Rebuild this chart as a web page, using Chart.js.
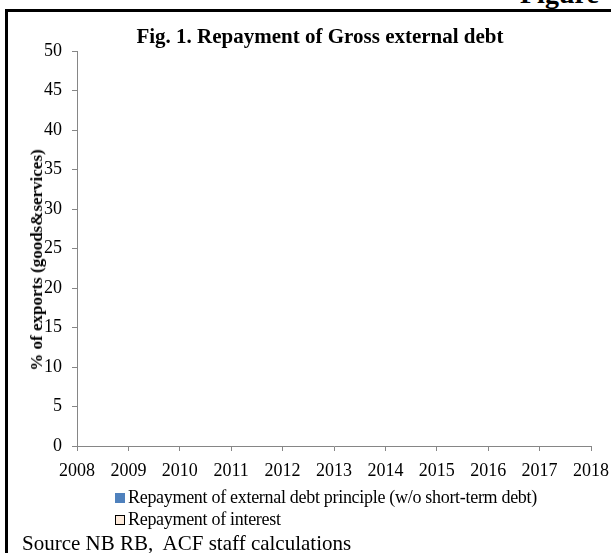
<!DOCTYPE html>
<html>
<head>
<meta charset="utf-8">
<script src="https://cdn.jsdelivr.net/npm/chart.js@4/dist/chart.umd.min.js"></script>
<style>
  html, body { margin: 0; padding: 0; background: #fff; }
  body { width: 611px; height: 553px; position: relative; overflow: hidden;
         font-family: "Liberation Serif", "Times New Roman", serif; color: #000; }
  #frame { position: absolute; left: 5px; top: 9px; width: 620px; height: 560px;
           border-left: 3px solid #000; border-top: 3px solid #000; }
  #chart { position: absolute; left: 0; top: 0; }
  #figure { position: absolute; left: 520px; top: -22px; font-weight: bold; font-size: 28px; white-space: nowrap; }
  #title { position: absolute; left: 0; width: 640px; top: 24px; text-align: center;
           font-weight: bold; font-size: 21px; white-space: nowrap; }
  #ytitle { position: absolute; left: 37px; top: 260px; font-weight: bold; font-size: 17px;
            white-space: nowrap; transform: translate(-50%, -50%) rotate(-90deg); }
  #legend { position: absolute; left: 115px; top: 486px; font-size: 18px; }
  .item { height: 22px; line-height: 22px; white-space: nowrap; letter-spacing: -0.3px; }
  .box { display: inline-block; width: 10px; height: 10px; box-sizing: border-box;
         margin-right: 3px; vertical-align: 0px; }
  #source { position: absolute; left: 22px; top: 531px; font-size: 21px; white-space: pre; }
</style>
</head>
<body>
<div id="frame"></div>
<div id="figure">Figure</div>
<canvas id="chart" width="611" height="553"></canvas>
<div id="title"></div>
<div id="ytitle"></div>
<div id="legend"></div>
<div id="source"></div>
<script>
  // chart data (no bars are visible in the figure)
  const years = ['2008', '2009', '2010', '2011', '2012', '2013', '2014', '2015', '2016', '2017', '2018'];
  const principal = [null, null, null, null, null, null, null, null, null, null, null];
  const interest = [null, null, null, null, null, null, null, null, null, null, null];
  const seriesNames = ['Repayment of external debt principle (w/o short-term debt)', 'Repayment of interest'];
  const seriesColors = ['#4F81BD', '#FDEADA'];
  const seriesBorders = ['#4F81BD', '#000000'];
  const chartTitle = 'Fig. 1. Repayment of Gross external debt';
  const yTitle = '% of exports (goods&services)';
  const sourceText = 'Source NB RB,  ACF staff calculations';

  const axisGrey = '#868686';
  const tickFont = { family: '"Liberation Serif", "Times New Roman", serif', size: 18 };

  document.getElementById('title').textContent = chartTitle;
  document.getElementById('ytitle').textContent = yTitle;
  document.getElementById('source').textContent = sourceText;

  const ctx = document.getElementById('chart').getContext('2d');
  const chart = new Chart(ctx, {
    type: 'bar',
    data: {
      labels: years,
      datasets: [
        { label: seriesNames[0], data: principal, backgroundColor: seriesColors[0], borderColor: seriesBorders[0], borderWidth: 0 },
        { label: seriesNames[1], data: interest, backgroundColor: seriesColors[1], borderColor: seriesBorders[1], borderWidth: 1 }
      ]
    },
    options: {
      responsive: false,
      animation: false,
      layout: { padding: { left: 8, top: 51, right: 20, bottom: 0 } },
      plugins: {
        legend: { display: false },
        title: { display: false },
        tooltip: { enabled: false }
      },
      scales: {
        x: {
          stacked: true,
          offset: false,
          grid: { offset: false, drawOnChartArea: false, drawTicks: true, tickLength: 5, color: axisGrey },
          border: { color: axisGrey, width: 1 },
          ticks: { color: '#000', font: tickFont, padding: 9, maxRotation: 0, autoSkip: false },
          afterFit: s => { s.height = 107; s.paddingLeft = 0; s.paddingRight = 0; }
        },
        y: {
          stacked: true,
          min: 0,
          max: 50,
          grid: { drawOnChartArea: false, drawTicks: true, tickLength: 5, color: axisGrey },
          border: { color: axisGrey, width: 1 },
          ticks: { stepSize: 5, color: '#000', font: tickFont, padding: 10 },
          afterFit: s => { s.width = 69; s.paddingTop = 0; s.paddingBottom = 0; }
        }
      }
    }
  });

  // legend built from the chart's datasets
  const legend = document.getElementById('legend');
  chart.data.datasets.forEach(ds => {
    const row = document.createElement('div');
    row.className = 'item';
    const box = document.createElement('span');
    box.className = 'box';
    box.style.background = ds.backgroundColor;
    if (ds.borderWidth) box.style.border = '1px solid ' + ds.borderColor;
    row.appendChild(box);
    row.appendChild(document.createTextNode(ds.label));
    legend.appendChild(row);
  });
</script>
</body>
</html>
